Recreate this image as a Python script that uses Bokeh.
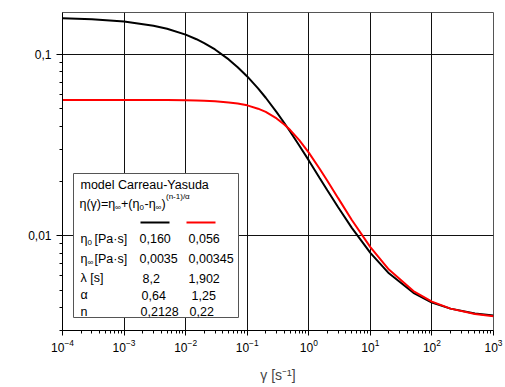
from bokeh.plotting import figure
from bokeh.models import BoxAnnotation, Label, FixedTicker, CustomJSTickFormatter, LogTickFormatter
from bokeh.embed import file_html
from bokeh.resources import INLINE
import math

# ---- data ----
shear = [1e-4, 3e-4, 1e-3, 3e-3, 5e-3, 1e-2, 1.5e-2, 2e-2, 3e-2, 5e-2, 7e-2, 0.1, 0.15,
         0.2, 0.3, 0.4, 0.5, 0.7, 1, 1.5, 2, 3, 5, 10, 20, 50, 100, 200, 500, 1000]
eta_black = [0.158, 0.156, 0.1515, 0.1437, 0.1382, 0.1283, 0.1211, 0.1153, 0.1063,
             0.0937, 0.0849, 0.0755, 0.0649, 0.0576, 0.048, 0.0418, 0.0374, 0.0314,
             0.026, 0.0208, 0.0178, 0.01435, 0.01104, 0.00804, 0.0062, 0.00484,
             0.00428, 0.00396, 0.00372, 0.00363]
eta_red = [0.056, 0.056, 0.056, 0.0559, 0.0559, 0.0558, 0.05562, 0.05546, 0.0551,
           0.0543, 0.05352, 0.0523, 0.05014, 0.0481, 0.0443, 0.041, 0.0382, 0.0336,
           0.0287, 0.0234, 0.0201, 0.0161, 0.0122, 0.00865, 0.0065, 0.00495,
           0.00433, 0.00396, 0.0037, 0.0036]

x_major = [1e-4, 1e-3, 1e-2, 1e-1, 1e0, 1e1, 1e2, 1e3]
y_major = [0.01, 0.1]

param_names = ["η0", "η∞", "λ [s]", "α", "n"]
vals_black = ["0,160", "0,0035", "8,2", "0,64", "0,2128"]
vals_red = ["0,056", "0,00345", "1,902", "1,25", "0,22"]

FONT = "Liberation Sans"

p = figure(x_axis_type="log", y_axis_type="log",
           x_range=(1e-4, 1e3), y_range=(0.003, 0.17),
           frame_width=431, frame_height=318,
           min_border_left=62, min_border_right=12, min_border_top=12, min_border_bottom=57,
           output_backend="svg", toolbar_location=None,
           background_fill_color="white", border_fill_color="white")
p.outline_line_color = "#555555"
p.outline_line_width = 1

x_minor = [m * 10.0 ** e for e in range(-4, 3) for m in range(2, 10)]
y_minor = [m * 10.0 ** e for e in (-3, -2, -1) for m in range(2, 10) if 0.003 <= m * 10.0 ** e <= 0.17]
p.xaxis.ticker = FixedTicker(ticks=x_major, minor_ticks=x_minor)
p.yaxis.ticker = FixedTicker(ticks=y_major, minor_ticks=y_minor)
p.xaxis.formatter = LogTickFormatter()
p.yaxis.formatter = CustomJSTickFormatter(code="return tick.toString().replace('.', ',')")

for ax in (p.xaxis, p.yaxis):
    ax.axis_line_color = "black"
    ax.axis_line_width = 1
    ax.major_tick_line_color = "black"
    ax.minor_tick_line_color = "black"
    ax.major_tick_in = 0
    ax.minor_tick_in = 0
    ax.major_label_text_font = FONT
    ax.major_label_text_font_size = "12px"
    ax.major_label_text_color = "black"
p.xaxis.major_tick_out = 5
p.xaxis.minor_tick_out = 3
p.yaxis.major_tick_out = 6
p.yaxis.minor_tick_out = 3
p.xaxis.major_label_standoff = 3
p.yaxis.major_label_standoff = 5

p.xaxis.axis_label = "γ [s⁻¹]"
p.xaxis.axis_label_text_font = FONT
p.xaxis.axis_label_text_font_size = "14px"
p.xaxis.axis_label_text_font_style = "normal"
p.xaxis.axis_label_standoff = 12

p.grid.grid_line_color = "#111111"
p.grid.grid_line_width = 1
p.grid.minor_grid_line_color = None

p.line(shear, eta_black, line_color="black", line_width=2)
p.line(shear, eta_red, line_color="#ff0000", line_width=2)

# ---- helpers in page coordinates (frame left=62, bottom=330) ----
FL, FB = 62, 330

def lab(text, px, py, size="12.5px", **kw):
    p.add_layout(Label(x=px - FL, y=FB - py, x_units="screen", y_units="screen",
                       text=text, text_font=FONT, text_font_size=size,
                       text_baseline="middle", text_color="black", **kw))

# y axis title
lab("η [Pa·s]", 22, 145, size="14px", angle=math.pi / 2, text_align="center")

# inset box
p.add_layout(BoxAnnotation(left=73 - FL, right=238 - FL, top=FB - 173, bottom=FB - 317,
                           left_units="screen", right_units="screen",
                           top_units="screen", bottom_units="screen",
                           fill_color="white", fill_alpha=1.0,
                           line_color="#555555", line_width=1, line_alpha=1.0))

lab("model Carreau-Yasuda", 80, 184)
# formula
lab("η(γ)=η", 79, 203)
lab("∞", 114.5, 207, size="8px")
lab("+(η", 120.5, 203)
lab("0", 139, 207, size="8px")
lab("-η", 144, 203)
lab("∞", 155, 207, size="8px")
lab(")", 161, 203)
lab("(n-1)/α", 165.5, 196, size="8px")

# line samples
for (x0, x1, col) in ((140, 169, "black"), (186, 215, "#ff0000")):
    p.add_layout(BoxAnnotation(left=x0 - FL, right=x1 - FL, top=FB - 221, bottom=FB - 223,
                               left_units="screen", right_units="screen",
                               top_units="screen", bottom_units="screen",
                               fill_color=col, fill_alpha=1.0, line_color=None))

row_y = [238, 258, 277.5, 294.5, 311]
# parameter names
lab("η", 80, row_y[0]); lab("0", 87, row_y[0] + 4, size="8px"); lab("[Pa·s]", 94, row_y[0])
lab("η", 80, row_y[1]); lab("∞", 87, row_y[1] + 4, size="8px"); lab("[Pa·s]", 94, row_y[1])
lab(param_names[2], 80, row_y[2])
lab(param_names[3], 80, row_y[3])
lab(param_names[4], 80, row_y[4])

xb = [139, 139, 142, 141, 140]
xr = [188, 188, 188, 191, 189]
for i in range(5):
    lab(vals_black[i], xb[i], row_y[i])
    lab(vals_red[i], xr[i], row_y[i])

open("out.html", "w").write(file_html(p, INLINE))
